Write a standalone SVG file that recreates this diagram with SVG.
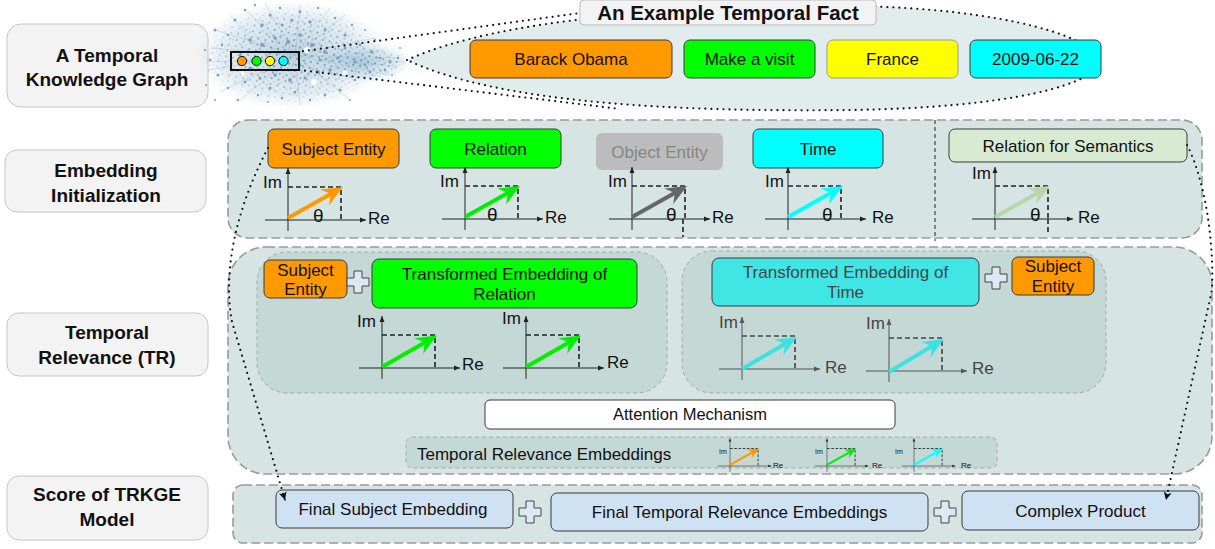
<svg xmlns="http://www.w3.org/2000/svg" width="1215" height="549" viewBox="0 0 1215 549">
<style>
.lbl{fill:#f3f3f3;stroke:#c6c6c6;stroke-width:1}
.lt{font-family:"Liberation Sans",Arial,sans-serif;font-weight:bold;font-size:19px;text-anchor:middle;fill:#111}
.t{font-family:"Liberation Sans",Arial,sans-serif;font-size:17px;text-anchor:middle;fill:#111}
.tl{font-family:"Liberation Sans",Arial,sans-serif;font-size:17px;fill:#111}
.g{fill:#444}
.box{stroke:#3a3a3a;stroke-width:1}
.panel{fill:#d6e4e4;stroke:#9a9a9a;stroke-width:1.6;stroke-dasharray:9 4}
.sub{fill:#c4d8d5;stroke:#a8a8a8;stroke-width:1;stroke-dasharray:4 3}
.ax{stroke:#222;stroke-width:1;fill:none}
.axg{stroke:#555;stroke-width:1;fill:none}
.dash{stroke:#222;stroke-width:1.6;stroke-dasharray:5 3;fill:none}
.dashg{stroke:#444;stroke-width:1.6;stroke-dasharray:5 3;fill:none}
.dot{stroke:#111;stroke-width:2.2;stroke-linecap:round;stroke-dasharray:0 6;fill:none}
.vec{stroke-width:4;fill:none}
.plus{fill:#dde8f3;stroke:#444;stroke-width:1}
.nd{fill:#6b98b6;opacity:0.85}
.ln{stroke:#a5c3d6;stroke-width:0.6;opacity:0.8}
</style>
<defs>
<marker id="axh" viewBox="-7 -3 8 6" refX="0" refY="0" markerWidth="8" markerHeight="6" markerUnits="userSpaceOnUse" orient="auto"><path d="M0,0 L-6,-2.5 L-6,2.5 Z" fill="#222"/></marker>
<marker id="axhg" viewBox="-7 -3 8 6" refX="0" refY="0" markerWidth="8" markerHeight="6" markerUnits="userSpaceOnUse" orient="auto"><path d="M0,0 L-6,-2.5 L-6,2.5 Z" fill="#555"/></marker>
<marker id="vO" viewBox="-22 -10 23 20" refX="-6" refY="0" markerWidth="23" markerHeight="20" markerUnits="userSpaceOnUse" orient="auto"><path d="M0,0 L-21,-9 L-14,0 L-21,9 Z" fill="#ff9900"/></marker>
<marker id="vG" viewBox="-22 -10 23 20" refX="-6" refY="0" markerWidth="23" markerHeight="20" markerUnits="userSpaceOnUse" orient="auto"><path d="M0,0 L-21,-9 L-14,0 L-21,9 Z" fill="#00ee00"/></marker>
<marker id="vK" viewBox="-22 -10 23 20" refX="-6" refY="0" markerWidth="23" markerHeight="20" markerUnits="userSpaceOnUse" orient="auto"><path d="M0,0 L-21,-9 L-14,0 L-21,9 Z" fill="#666"/></marker>
<marker id="vC" viewBox="-22 -10 23 20" refX="-6" refY="0" markerWidth="23" markerHeight="20" markerUnits="userSpaceOnUse" orient="auto"><path d="M0,0 L-21,-9 L-14,0 L-21,9 Z" fill="#00ffff"/></marker>
<marker id="vS" viewBox="-22 -10 23 20" refX="-6" refY="0" markerWidth="23" markerHeight="20" markerUnits="userSpaceOnUse" orient="auto"><path d="M0,0 L-21,-9 L-14,0 L-21,9 Z" fill="#b6d7a8"/></marker>
<marker id="vT" viewBox="-22 -10 23 20" refX="-6" refY="0" markerWidth="23" markerHeight="20" markerUnits="userSpaceOnUse" orient="auto"><path d="M0,0 L-21,-9 L-14,0 L-21,9 Z" fill="#40e0e0"/></marker>
<marker id="dh" viewBox="-9 -5 10 10" refX="0" refY="0" markerWidth="10" markerHeight="10" markerUnits="userSpaceOnUse" orient="auto"><path d="M0,0 L-8,-4 L-6,0 L-8,4 Z" fill="#111"/></marker>
<g id="plane"><line x1="0" y1="11" x2="0" y2="-52" class="ax" marker-end="url(#axh)"/><line x1="-23" y1="0" x2="78" y2="0" class="ax" marker-end="url(#axh)"/><path d="M0,-33 H53 V0" class="dash"/></g>
<g id="planeg"><line x1="0" y1="11" x2="0" y2="-52" class="axg" marker-end="url(#axhg)"/><line x1="-23" y1="0" x2="78" y2="0" class="axg" marker-end="url(#axhg)"/><path d="M0,-33 H53 V0" class="dashg"/></g>
<path id="plus" d="M-4,-11 H4 V-4 H11 V4 H4 V11 H-4 V4 H-11 V-4 H-4 Z" class="plus"/>
<pattern id="pd1" width="7" height="6" patternUnits="userSpaceOnUse" patternTransform="rotate(12)"><circle cx="2" cy="2" r="1.1" fill="#5b8aaa"/><circle cx="5.5" cy="5" r="0.7" fill="#86adc6"/></pattern>
<pattern id="pd2" width="9" height="8" patternUnits="userSpaceOnUse" patternTransform="rotate(37)"><circle cx="3" cy="3" r="1" fill="#7aa3be"/></pattern>
<radialGradient id="fadeG"><stop offset="0" stop-color="#fff" stop-opacity="1"/><stop offset="0.6" stop-color="#fff" stop-opacity="0.55"/><stop offset="1" stop-color="#fff" stop-opacity="0"/></radialGradient>
<radialGradient id="hazeG"><stop offset="0" stop-color="#8fb3ca" stop-opacity="0.6"/><stop offset="0.7" stop-color="#b3cddd" stop-opacity="0.35"/><stop offset="1" stop-color="#d2e2ec" stop-opacity="0"/></radialGradient>
<mask id="m1" maskUnits="userSpaceOnUse" x="190" y="0" width="240" height="120"><ellipse cx="292" cy="55" rx="95" ry="52" fill="url(#fadeG)"/><ellipse cx="365" cy="62" rx="45" ry="18" fill="url(#fadeG)"/></mask>
</defs>

<!-- left stage labels -->
<g id="lbl-tkg"><rect x="7" y="24" width="201" height="83" rx="14" class="lbl"/><text class="lt" x="107" y="62">A Temporal</text><text class="lt" x="107" y="86">Knowledge Graph</text></g>
<g id="lbl-init"><rect x="5" y="150" width="201" height="62" rx="12" class="lbl"/><text class="lt" x="106" y="177">Embedding</text><text class="lt" x="106" y="202">Initialization</text></g>
<g id="lbl-tr"><rect x="7" y="313" width="201" height="63" rx="12" class="lbl"/><text class="lt" x="107" y="339">Temporal</text><text class="lt" x="107" y="364">Relevance (TR)</text></g>
<g id="lbl-score"><rect x="7" y="476" width="201" height="64" rx="12" class="lbl"/><text class="lt" x="107" y="501">Score of TRKGE</text><text class="lt" x="107" y="526">Model</text></g>

<!-- knowledge graph cloud -->
<g id="kg-cloud">
<ellipse cx="292" cy="55" rx="100" ry="56" fill="url(#hazeG)"/>
<ellipse cx="362" cy="62" rx="52" ry="20" fill="url(#hazeG)"/>
<g class="ln">
<line x1="295" y1="55" x2="215" y2="30"/><line x1="295" y1="55" x2="245" y2="10"/><line x1="295" y1="55" x2="300" y2="5"/><line x1="295" y1="55" x2="345" y2="15"/><line x1="295" y1="55" x2="400" y2="58"/><line x1="295" y1="55" x2="390" y2="75"/><line x1="295" y1="55" x2="350" y2="100"/><line x1="295" y1="55" x2="300" y2="105"/><line x1="295" y1="55" x2="240" y2="100"/><line x1="295" y1="55" x2="208" y2="70"/><line x1="295" y1="55" x2="210" y2="48"/><line x1="295" y1="55" x2="265" y2="3"/><line x1="295" y1="55" x2="375" y2="38"/><line x1="295" y1="55" x2="405" y2="62"/><line x1="295" y1="55" x2="220" y2="92"/><line x1="295" y1="55" x2="330" y2="8"/><line x1="320" y1="60" x2="398" y2="66"/><line x1="320" y1="60" x2="380" y2="50"/><line x1="270" y1="60" x2="206" y2="62"/><line x1="270" y1="60" x2="230" y2="15"/>
</g>
<rect x="190" y="0" width="240" height="115" fill="url(#pd1)" mask="url(#m1)"/>
<rect x="190" y="0" width="240" height="115" fill="url(#pd2)" mask="url(#m1)" opacity="0.8"/>
<g class="nd">
<circle cx="215" cy="30" r="1.5"/><circle cx="222" cy="45" r="1.2"/><circle cx="210" cy="60" r="1.3"/><circle cx="218" cy="75" r="1.5"/><circle cx="228" cy="88" r="1.2"/><circle cx="235" cy="20" r="1.4"/><circle cx="245" cy="10" r="1.3"/><circle cx="255" cy="5" r="1.2"/><circle cx="262" cy="25" r="1.8"/><circle cx="270" cy="15" r="1.5"/><circle cx="280" cy="8" r="1.3"/><circle cx="292" cy="20" r="1.6"/><circle cx="300" cy="12" r="1.4"/><circle cx="310" cy="22" r="1.7"/><circle cx="318" cy="8" r="1.2"/><circle cx="325" cy="30" r="1.5"/><circle cx="335" cy="18" r="1.3"/><circle cx="345" cy="35" r="1.6"/><circle cx="352" cy="25" r="1.2"/><circle cx="360" cy="45" r="1.4"/><circle cx="372" cy="52" r="1.5"/><circle cx="380" cy="58" r="1.3"/><circle cx="390" cy="62" r="1.6"/><circle cx="398" cy="58" r="1.2"/><circle cx="385" cy="70" r="1.4"/><circle cx="370" cy="72" r="1.5"/><circle cx="355" cy="80" r="1.3"/><circle cx="340" cy="90" r="1.6"/><circle cx="325" cy="95" r="1.4"/><circle cx="310" cy="100" r="1.2"/><circle cx="295" cy="92" r="1.5"/><circle cx="282" cy="98" r="1.3"/><circle cx="270" cy="88" r="1.6"/><circle cx="258" cy="95" r="1.2"/><circle cx="245" cy="82" r="1.5"/><circle cx="238" cy="100" r="1.3"/><circle cx="250" cy="40" r="1.8"/><circle cx="240" cy="55" r="1.6"/><circle cx="262" cy="45" r="2"/><circle cx="275" cy="38" r="1.7"/><circle cx="288" cy="42" r="2"/><circle cx="300" cy="35" r="1.8"/><circle cx="312" cy="45" r="2.1"/><circle cx="325" cy="52" r="1.9"/><circle cx="338" cy="58" r="1.7"/><circle cx="330" cy="70" r="1.8"/><circle cx="318" cy="72" r="2"/><circle cx="305" cy="78" r="1.6"/><circle cx="290" cy="80" r="1.9"/><circle cx="275" cy="75" r="1.7"/><circle cx="260" cy="78" r="1.5"/><circle cx="250" cy="68" r="1.6"/><circle cx="345" cy="48" r="1.5"/><circle cx="355" cy="62" r="1.7"/><circle cx="365" cy="65" r="1.4"/><circle cx="300" cy="65" r="1.5"/><circle cx="232" cy="70" r="1.4"/><circle cx="228" cy="35" r="1.2"/><circle cx="205" cy="50" r="1.1"/><circle cx="206" cy="85" r="1.1"/><circle cx="215" cy="100" r="1"/><circle cx="268" cy="102" r="1"/><circle cx="350" cy="100" r="1"/><circle cx="400" cy="48" r="1"/><circle cx="392" cy="75" r="1"/><circle cx="365" cy="30" r="1.1"/><circle cx="375" cy="40" r="1.2"/><circle cx="282" cy="25" r="1.4"/><circle cx="258" cy="60" r="1.5"/><circle cx="320" cy="60" r="1.6"/>
</g>
<g fill="#fff"><circle cx="307" cy="50" r="3"/><circle cx="314" cy="82" r="3"/><circle cx="345" cy="73" r="2.5"/><circle cx="243" cy="73" r="2"/></g>
</g>

<!-- example fact callout -->
<g id="fact-callout">
<path d="M407,60 C500,18 680,6 850,6 C1010,8 1099,40 1099,61 C1099,84 1010,108 850,110 C680,112 500,104 407,60 Z" fill="#e1eced"/>
<path d="M407,60 C500,18 680,6 850,6 C1010,8 1099,40 1099,61 C1099,84 1010,108 850,110 C680,112 500,104 407,60" class="dot" stroke-width="2"/>
</g>
<g id="fact-marker">
<rect x="231" y="52" width="68" height="18" fill="none" stroke="#111" stroke-width="2"/>
<circle cx="242" cy="61" r="4.6" fill="#ff9900" stroke="#111" stroke-width="1"/>
<circle cx="256.5" cy="61" r="4.6" fill="#00ff00" stroke="#111" stroke-width="1"/>
<circle cx="270" cy="61" r="4.6" fill="#ffff00" stroke="#111" stroke-width="1"/>
<circle cx="283.5" cy="61" r="4.6" fill="#00ffff" stroke="#111" stroke-width="1"/>
</g>
<g id="fact-title"><rect x="580" y="0" width="296" height="25" rx="4" fill="#f3f3f3" stroke="#bdbdbd"/><text class="lt" x="728" y="20" style="font-size:20.5px">An Example Temporal Fact</text></g>
<g id="fact-subject"><rect x="470" y="40" width="202" height="38" rx="6" fill="#ff9900" class="box"/><text class="t" x="571" y="65">Barack Obama</text></g>
<g id="fact-relation"><rect x="684" y="40" width="131" height="38" rx="6" fill="#00ff00" class="box"/><text class="t" x="749.5" y="65">Make a visit</text></g>
<g id="fact-object"><rect x="827" y="40" width="131" height="38" rx="6" fill="#ffff00" stroke="#999" stroke-width="1"/><text class="t" x="892.5" y="65">France</text></g>
<g id="fact-time"><rect x="970" y="40" width="131" height="38" rx="6" fill="#00ffff" class="box"/><text class="t" x="1035.5" y="65">2009-06-22</text></g>

<!-- Embedding initialization -->
<g id="panel-init">
<rect x="228" y="120" width="974" height="118" rx="20" class="panel"/>
<line x1="935" y1="120" x2="935" y2="241" stroke="#222" stroke-width="1" stroke-dasharray="4 3"/>
</g>
<g id="init-subject"><rect x="268" y="129" width="131" height="39" rx="6" fill="#ff9900" class="box"/><text class="t" x="333.5" y="155">Subject Entity</text>
<use href="#plane" x="288" y="220"/><line x1="0" y1="-2" x2="49.8" y2="-30" transform="translate(288 220)" class="vec" stroke="#ff9900" marker-end="url(#vO)"/>
<text class="tl" x="263" y="188">Im</text><text class="tl" x="368" y="224">Re</text><text class="tl" x="313" y="222" style="font-size:19px">θ</text></g>
<g id="init-relation"><rect x="430" y="129" width="131" height="39" rx="6" fill="#00ff00" class="box"/><text class="t" x="495.5" y="155">Relation</text>
<use href="#plane" x="465" y="219"/><line x1="0" y1="-2" x2="49.8" y2="-30" transform="translate(465 219)" class="vec" stroke="#00ee00" marker-end="url(#vG)"/>
<text class="tl" x="440" y="187">Im</text><text class="tl" x="545" y="223">Re</text><text class="tl" x="487" y="221" style="font-size:19px">θ</text></g>
<g id="init-object"><rect x="596" y="133" width="127" height="37" rx="6" fill="#bcbcbc"/><text class="t" x="659.5" y="158" style="fill:#858585">Object Entity</text>
<use href="#plane" x="632" y="219"/><line x1="683" y1="219" x2="683" y2="237" class="dash"/><line x1="0" y1="-2" x2="49.8" y2="-30" transform="translate(632 219)" class="vec" stroke="#666" marker-end="url(#vK)"/>
<text class="tl" x="608" y="187">Im</text><text class="tl" x="712" y="223">Re</text><text class="tl" x="666" y="221" style="font-size:19px">θ</text></g>
<g id="init-time"><rect x="753" y="129" width="130" height="39" rx="6" fill="#00ffff" class="box"/><text class="t" x="818" y="155">Time</text>
<use href="#plane" x="788" y="219"/><line x1="0" y1="-2" x2="49.8" y2="-30" transform="translate(788 219)" class="vec" stroke="#00ffff" marker-end="url(#vC)"/>
<text class="tl" x="765" y="187">Im</text><text class="tl" x="872" y="223">Re</text><text class="tl" x="822" y="221" style="font-size:19px">θ</text></g>
<g id="init-semantics"><rect x="949" y="129" width="238" height="33" rx="6" fill="#d9ead3" class="box"/><text class="t" x="1068" y="152">Relation for Semantics</text>
<use href="#plane" x="995" y="219"/><line x1="1048" y1="219" x2="1048" y2="233" class="dash"/><line x1="0" y1="-2" x2="49.8" y2="-30" transform="translate(995 219)" class="vec" stroke="#b6d7a8" marker-end="url(#vS)"/>
<text class="tl" x="972" y="179">Im</text><text class="tl" x="1078" y="223">Re</text><text class="tl" x="1030" y="221" style="font-size:19px">θ</text></g>

<!-- Temporal relevance -->
<g id="panel-tr"><rect x="228" y="247" width="984" height="227" rx="38" class="panel"/></g>
<g id="tr-left">
<rect x="257" y="252" width="410" height="141" rx="30" class="sub"/>
<rect x="264" y="260" width="83" height="38" rx="6" fill="#ff9900" class="box"/><text class="t" x="305.5" y="276">Subject</text><text class="t" x="305.5" y="295">Entity</text>
<use href="#plus" x="358" y="282"/>
<rect x="372" y="259" width="265" height="49" rx="7" fill="#00ff00" class="box"/><text class="t" x="504.5" y="280">Transformed Embedding of</text><text class="t" x="504.5" y="300">Relation</text>
<use href="#plane" x="382" y="368"/><line x1="0" y1="-1" x2="49.8" y2="-29.5" transform="translate(382 368)" class="vec" stroke="#00ee00" marker-end="url(#vG)"/>
<text class="tl" x="357" y="327">Im</text><text class="tl" x="462" y="370">Re</text>
<use href="#plane" x="526" y="368"/><line x1="0" y1="-1" x2="49.8" y2="-29.5" transform="translate(526 368)" class="vec" stroke="#00ee00" marker-end="url(#vG)"/>
<text class="tl" x="502" y="324">Im</text><text class="tl" x="607" y="368">Re</text>
</g>
<g id="tr-right">
<rect x="682" y="251" width="424" height="142" rx="30" class="sub"/>
<rect x="712" y="258" width="267" height="48" rx="7" fill="#40e6e4" class="box"/><text class="t g" x="845.5" y="278">Transformed Embedding of</text><text class="t g" x="845.5" y="298">Time</text>
<use href="#plus" x="996" y="278"/>
<rect x="1012" y="257" width="82" height="38" rx="6" fill="#ff9900" class="box"/><text class="t" x="1053" y="272">Subject</text><text class="t" x="1053" y="292">Entity</text>
<use href="#planeg" x="742" y="369"/><line x1="0" y1="0" x2="49.8" y2="-29" transform="translate(742 369)" class="vec" stroke="#40e0e0" marker-end="url(#vT)"/>
<text class="tl g" x="719" y="328">Im</text><text class="tl g" x="825" y="373">Re</text>
<use href="#planeg" x="889" y="371"/><line x1="0" y1="1" x2="49.8" y2="-29" transform="translate(889 371)" class="vec" stroke="#40e0e0" marker-end="url(#vT)"/>
<text class="tl g" x="866" y="329">Im</text><text class="tl g" x="972" y="374">Re</text>
</g>
<g id="tr-attention"><rect x="485" y="400" width="410" height="29" rx="5" fill="#fff" class="box"/><text class="t" x="690" y="420" style="font-size:16.5px">Attention Mechanism</text></g>
<g id="tr-embeddings">
<rect x="406" y="437" width="591" height="31" rx="6" class="sub"/>
<text class="tl" x="417" y="460">Temporal Relevance Embeddings</text>
<g transform="translate(730 466) scale(0.53)"><use href="#plane"/><line x1="0" y1="-2" x2="49.8" y2="-30" class="vec" stroke="#ff9900" marker-end="url(#vO)"/></g>
<text class="tl" x="719" y="454" style="font-size:7px">Im</text><text class="tl" x="773" y="468" style="font-size:8px">Re</text>
<g transform="translate(827 466) scale(0.53)"><use href="#plane"/><line x1="0" y1="-2" x2="49.8" y2="-30" class="vec" stroke="#00ee00" marker-end="url(#vG)"/></g>
<text class="tl" x="815" y="454" style="font-size:7px">Im</text><text class="tl" x="872" y="468" style="font-size:8px">Re</text>
<g transform="translate(914 466) scale(0.53)"><use href="#plane"/><line x1="0" y1="-2" x2="49.8" y2="-30" class="vec" stroke="#00ffff" marker-end="url(#vC)"/></g>
<text class="tl" x="895" y="454" style="font-size:7px">Im</text><text class="tl" x="961" y="468" style="font-size:8px">Re</text>
</g>

<!-- Score -->
<g id="panel-score"><rect x="233" y="485" width="969" height="58" rx="10" class="panel"/></g>
<g id="score-subject"><rect x="276" y="490" width="237" height="38" rx="6" fill="#cfe2f3" class="box"/><text class="t" x="393" y="515">Final Subject  Embedding</text></g>
<use id="score-plus1" href="#plus" x="530" y="512"/>
<g id="score-tr"><rect x="551" y="493" width="377" height="38" rx="6" fill="#cfe2f3" class="box"/><text class="t" x="739.5" y="518">Final Temporal Relevance Embeddings</text></g>
<use id="score-plus2" href="#plus" x="945" y="512"/>
<g id="score-complex"><rect x="962" y="491" width="237" height="39" rx="6" fill="#cfe2f3" class="box"/><text class="t" x="1080.5" y="517">Complex Product</text></g>

<!-- connectors -->
<g id="connectors">
<path d="M297,52 L580,13" class="dot" stroke-width="2"/>
<path d="M299,70 L620,109" class="dot" stroke-width="2"/>
<path d="M268,148 C238,205 222,268 232,322 L285,500" class="dot" marker-end="url(#dh)"/>
<path d="M1187,145 C1205,180 1214,240 1212,290 L1166,500" class="dot" marker-end="url(#dh)"/>
</g>
</svg>
